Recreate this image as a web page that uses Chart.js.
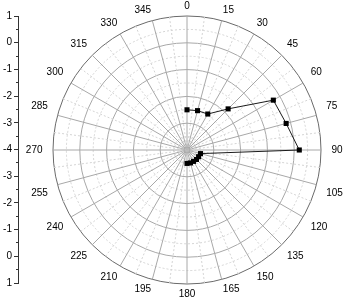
<!DOCTYPE html>
<html><head><meta charset="utf-8">
<script src="https://cdn.jsdelivr.net/npm/chart.js@4"></script>
<style>
html,body{margin:0;padding:0;background:#fff;}
#wrap{position:relative;width:349px;height:300px;}
#wrap canvas{position:absolute;left:0;top:0;}
</style></head><body>
<div id="wrap">
<canvas id="gridChart" width="349" height="300"></canvas>
<canvas id="axisChart" width="349" height="300"></canvas>
<canvas id="minorAxisChart" width="349" height="300"></canvas>
<canvas id="dataChart" width="349" height="300"></canvas>
</div>
<script>
// Angle grid labels (every 7.5 deg; labelled every 15 deg)
const angleLabels = ['0','','15','','30','','45','','60','','75','','90','','105','','120','','135','','150','','165','','180','','195','','210','','225','','240','','255','','270','','285','','300','','315','','330','','345',''];
// Data categories (angles, deg)
const dataAngleLabels = ['0','15','30','45','60','75','90','105','120','135','150','165','180','195','210','225','240','255','270','285','300','315','330','345'];
const pointAngles = [0, 15, 30, 45, 60, 75, 90, 105, 120, 135, 150, 165, 180];
const pointValues = [-2.50, -2.48, -2.45, -1.83, -0.28, -0.17, 0.19, -3.48, -3.50, -3.50, -3.51, -3.50, -3.50];
// Left radial axis tick labels (top to bottom)
const leftAxisLabels = ['1','0','-1','-2','-3','-4','-3','-2','-1','0','1'];
const radialMin = -4, radialMax = 1;

Chart.defaults.font.family = "'Liberation Sans', Arial, sans-serif";
Chart.defaults.font.size = 10;
Chart.defaults.color = '#000';
Chart.defaults.animation = false;

const isInt = v => Math.abs(v - Math.round(v)) < 1e-9;

// 1) Polar grid with angle labels
new Chart(document.getElementById('gridChart'), {
  type: 'radar',
  data: { labels: angleLabels, datasets: [] },
  options: {
    responsive: false,
    devicePixelRatio: 1,
    layout: { padding: { left: 20, right: 0, top: 0, bottom: 0 } },
    plugins: { legend: { display: false }, tooltip: { enabled: false } },
    scales: {
      r: {
        min: radialMin, max: radialMax,
        ticks: { display: false, stepSize: 0.5 },
        grid: {
          circular: true,
          lineWidth: 1,
          color: c => c.tick.value >= radialMax ? '#6a6a6a' : (isInt(c.tick.value) ? '#a8a8a8' : '#d4d4d4')
        },
        border: { dash: c => isInt(c.tick.value) ? [] : [2, 2] },
        angleLines: {
          lineWidth: 1,
          color: c => c.index % 2 === 0 ? '#a8a8a8' : '#d4d4d4',
          borderDash: c => c.index % 2 === 0 ? [] : [2, 2]
        },
        pointLabels: {
          color: '#000',
          font: { size: 10 },
          padding: c => {
            const s = Math.sin(c.index * 7.5 * Math.PI / 180);
            return 4 + 6.5 * s * s;
          }
        }
      }
    }
  }
});

const leftAxisBase = {
  position: 'left',
  min: 0, max: 10
};

// 2) Left radial axis (labels + major ticks)
new Chart(document.getElementById('axisChart'), {
  type: 'line',
  data: { labels: [], datasets: [] },
  options: {
    responsive: false,
    devicePixelRatio: 1,
    layout: { padding: { left: 3, right: 0, top: 16, bottom: 17 } },
    plugins: { legend: { display: false }, tooltip: { enabled: false } },
    scales: {
      x: { display: false },
      y: Object.assign({}, leftAxisBase, {
        afterFit: s => { s.width = 15; },
        ticks: {
          stepSize: 0.5, autoSkip: false, padding: 2, color: '#000',
          font: { size: 10 },
          callback: v => isInt(v) ? leftAxisLabels[10 - Math.round(v)] : ''
        },
        grid: {
          display: true, drawOnChartArea: false, drawTicks: true, tickLength: 4,
          color: '#333',
          tickColor: c => isInt(c.tick.value) ? '#333' : 'rgba(0,0,0,0)'
        },
        border: { display: true, color: '#333', width: 1 }
      })
    }
  }
});

// 2b) Left radial axis minor ticks
new Chart(document.getElementById('minorAxisChart'), {
  type: 'line',
  data: { labels: [], datasets: [] },
  options: {
    responsive: false,
    devicePixelRatio: 1,
    layout: { padding: { left: 16, right: 0, top: 16, bottom: 17 } },
    plugins: { legend: { display: false }, tooltip: { enabled: false } },
    scales: {
      x: { display: false },
      y: Object.assign({}, leftAxisBase, {
        afterFit: s => { s.width = 2; },
        ticks: { stepSize: 0.5, autoSkip: false, display: false },
        grid: {
          display: true, drawOnChartArea: false, drawTicks: true, tickLength: 2,
          color: '#333',
          tickColor: c => isInt(c.tick.value) ? 'rgba(0,0,0,0)' : '#333'
        },
        border: { display: false }
      })
    }
  }
});

// 3) Data series
const series = dataAngleLabels.map(l => {
  const i = pointAngles.indexOf(Number(l));
  return i >= 0 ? pointValues[i] : null;
});
new Chart(document.getElementById('dataChart'), {
  type: 'radar',
  data: {
    labels: dataAngleLabels,
    datasets: [{
      data: series,
      borderColor: '#1a1a1a',
      borderWidth: 1,
      backgroundColor: '#000',
      fill: false,
      spanGaps: false,
      pointStyle: 'rect',
      pointRadius: 3.6,
      pointBackgroundColor: '#000',
      pointBorderColor: '#000',
      pointBorderWidth: 0
    }]
  },
  options: {
    responsive: false,
    devicePixelRatio: 1,
    layout: { padding: { left: 53, right: 28, top: 16, bottom: 16 } },
    plugins: { legend: { display: false }, tooltip: { enabled: false } },
    scales: {
      r: { display: false, min: radialMin, max: radialMax }
    }
  }
});
</script>
</body></html>
